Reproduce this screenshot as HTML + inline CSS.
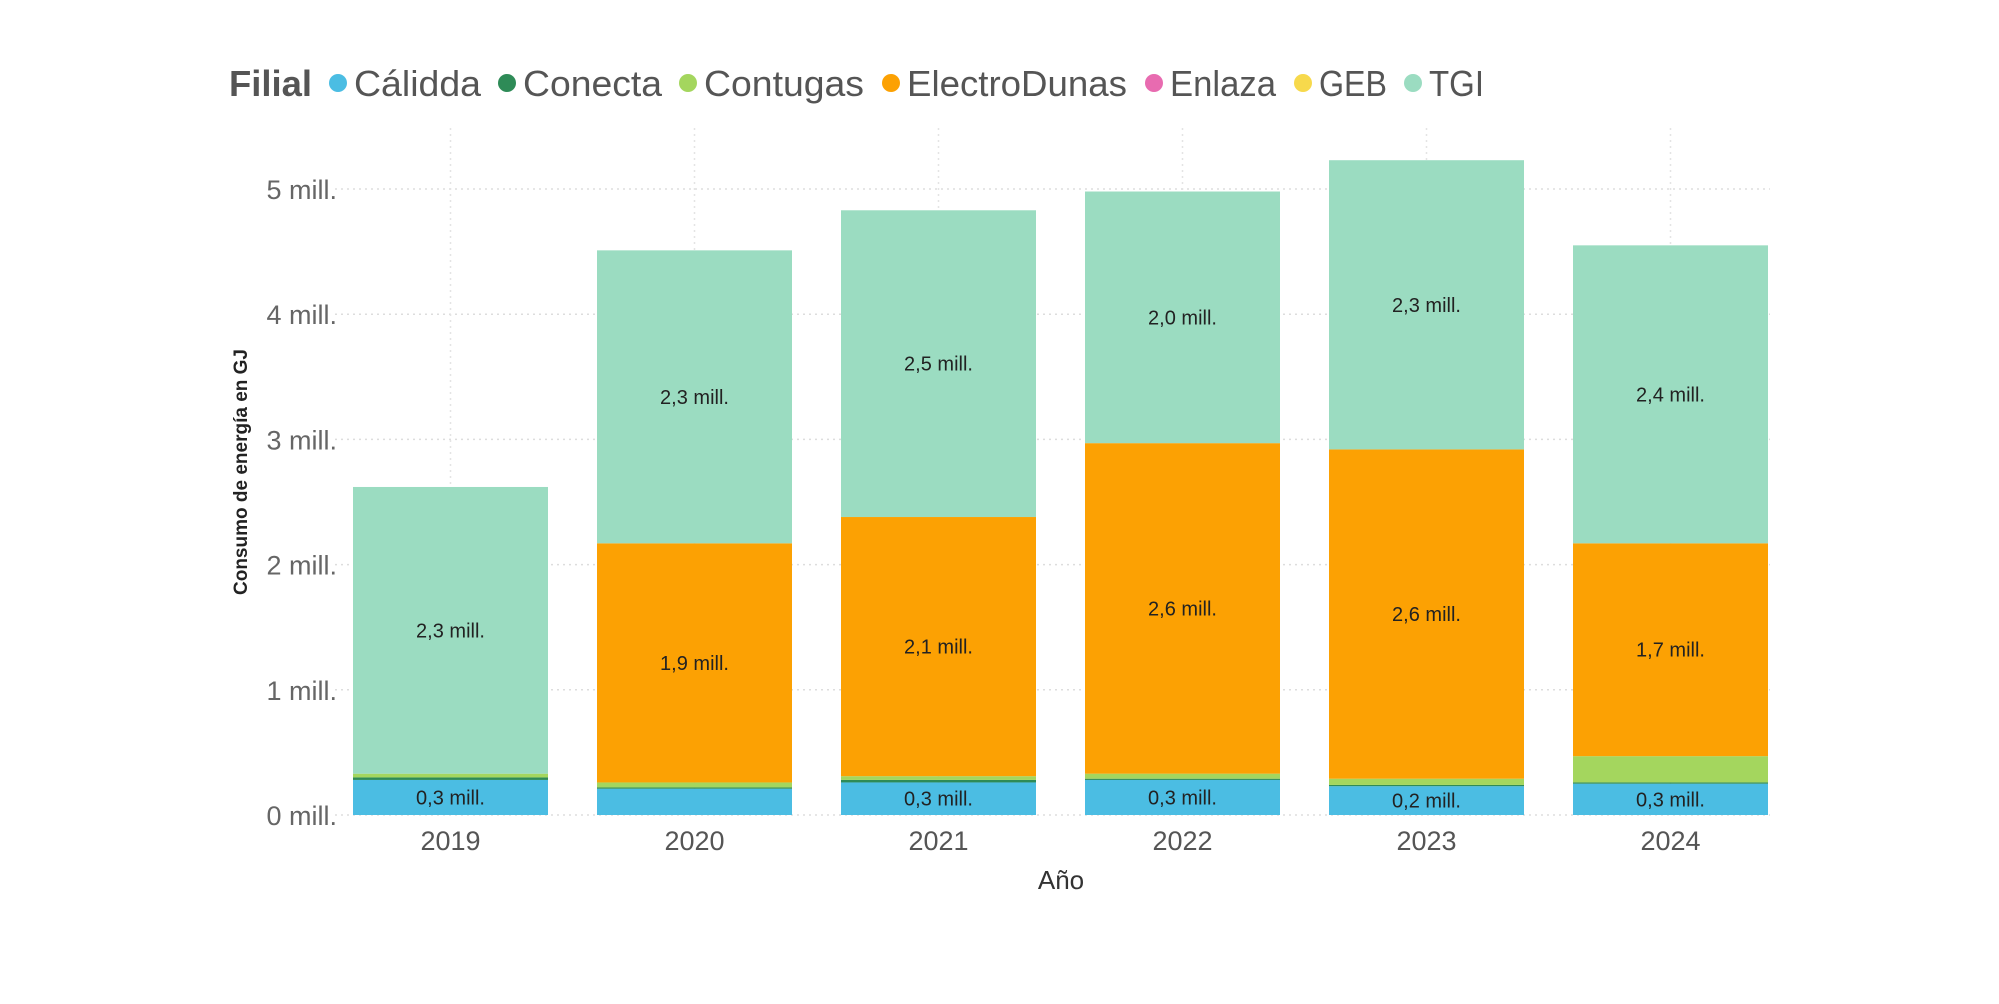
<!DOCTYPE html>
<html><head><meta charset="utf-8"><style>
html,body{margin:0;padding:0;background:#fff;}
svg{display:block;font-family:"Liberation Sans",sans-serif;}
</style></head><body>
<svg id="chart" width="1999" height="1004" viewBox="0 0 1999 1004" xmlns="http://www.w3.org/2000/svg">
<g id="legend"></g>
<g id="grid"></g>
<g id="bars"></g>
<g id="yaxis"></g>
<g id="xaxis"></g>
<text transform="translate(247,472) rotate(-90)" text-anchor="middle" font-size="19" font-weight="bold" fill="#222">Consumo de energía en GJ</text>
<text x="1061" y="889" text-anchor="middle" font-size="26" fill="#333">Año</text>
</svg>
<script>
const years = ["2019","2020","2021","2022","2023","2024"];
const calidda = [0.28,0.21,0.26,0.28,0.23,0.25];
const conecta = [0.02,0.01,0.02,0.01,0.01,0.01];
const contugas = [0.03,0.04,0.03,0.04,0.05,0.21];
const electroDunas = [0,1.91,2.07,2.64,2.63,1.70];
const enlaza = [0,0,0,0,0,0];
const geb = [0,0,0,0,0,0];
const tgi = [2.29,2.34,2.45,2.01,2.31,2.38];
const yTicks = [0,1,2,3,4,5];
const legendNames = ["Cálidda","Conecta","Contugas","ElectroDunas","Enlaza","GEB","TGI"];

const NS="http://www.w3.org/2000/svg";
const series=[calidda,conecta,contugas,electroDunas,enlaza,geb,tgi];
const colors=["#4bbde3","#2e8b57","#a4d65e","#fca103","#e86bb0","#f7d94c","#9bdcc1"];
const keys=["calidda","conecta","contugas","electrodunas","enlaza","geb","tgi"];
const x0=353, step=244, bw=195, y0=815, pxPerM=125.2;
const xc=i=>x0+bw/2+i*step;
const yv=v=>y0-v*pxPerM;
function mk(tag,attrs,parent){const e=document.createElementNS(NS,tag);for(const k in attrs)e.setAttribute(k,attrs[k]);parent.appendChild(e);return e;}
const grid=document.getElementById('grid'),bars=document.getElementById('bars'),ya=document.getElementById('yaxis'),xa=document.getElementById('xaxis'),lg=document.getElementById('legend');
yTicks.forEach(t=>{
  const l=mk('line',{x1:335,x2:1770,y1:yv(t),y2:yv(t),stroke:'#ddd','stroke-dasharray':'2,4','stroke-width':1.5},grid);
  
  
  const tx=mk('text',{x:337,y:yv(t)+10,'text-anchor':'end','font-size':27,fill:'#666'},ya);
  
  
  tx.textContent=t+" mill.";
});
years.forEach((yr,i)=>{
  const l=mk('line',{x1:xc(i),x2:xc(i),y1:128,y2:y0,stroke:'#e4e4e4','stroke-dasharray':'2,4','stroke-width':1.5},grid);
  
  
  let base=0;
  series.forEach((s,k)=>{
    const v=s[i]; if(v<=0) return;
    const r=mk('rect',{x:xc(i)-bw/2,y:yv(base+v),width:bw,height:v*pxPerM,fill:colors[k]},bars);
    
    
    if(v>=0.22){
      const t=mk('text',{x:xc(i),y:yv(base+v/2)+7,'text-anchor':'middle','font-size':20,fill:'#222'},bars);
      
      
      t.textContent=v.toFixed(1).replace('.',',')+" mill.";
    }
    base+=v;
  });
  const tx=mk('text',{x:xc(i),y:850,'text-anchor':'middle','font-size':27,fill:'#555'},xa);
  
  
  tx.textContent=yr;
});
const ft=mk('text',{x:229,y:96,'font-size':36,'font-weight':'bold',fill:'#555',textLength:83,lengthAdjust:'spacingAndGlyphs'},lg);


ft.textContent="Filial";
const dotX=[338,507,688,891,1154,1303,1413];
const endX=[481,662,864,1127,1276,1387,1484];
legendNames.forEach((n,k)=>{
  const g=mk('g',{},lg);
  
  
  mk('circle',{cx:dotX[k],cy:83,r:9,fill:colors[k]},g);
  const t=mk('text',{x:dotX[k]+16,y:96,'font-size':36,fill:'#555',textLength:endX[k]-dotX[k]-16,lengthAdjust:'spacingAndGlyphs'},g);
  t.textContent=n;
});
</script>
</body></html>
